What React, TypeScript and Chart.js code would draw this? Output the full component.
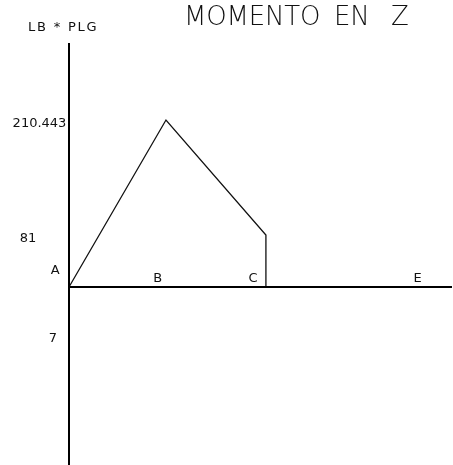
import React, { useEffect, useRef } from "react";
import { Chart, registerables } from "chart.js";

Chart.register(...registerables);

// ---- data ----
const titleWords = ["MOMENTO", "EN", "Z"];
const unitLabel = "LB * PLG";
const stationNames = ["A", "B", "C", "E"];
const stationLabelX = [-1.4, 9.0, 18.7, 35.4];
const diagramX = [0, 9.85, 20, 20];
const diagramY = [0, 210.443, 65.5, 0];
const tickValues = [210.443, 65.5, -60];
const tickLabels = ["210.443", "81", "7"];
const xRange = [0, 38.9];
const yRange = [-224.3, 307.5];

// ---- layout (pixels) ----
const tickLabelCenterX = [39.5, 28, 53];
const titleWordX = [184, 334, 391];

export default function App() {
  const ref = useRef<HTMLCanvasElement | null>(null);

  useEffect(() => {
    const canvas = ref.current;
    if (!canvas) return;

    const labelsPlugin = {
      id: "cadLabels",
      afterDraw(chart: any) {
        const ctx = chart.ctx as CanvasRenderingContext2D;
        const xs = chart.scales.x;
        const ys = chart.scales.y;
        ctx.save();
        ctx.fillStyle = "#111";
        // title
        ctx.font = "200 26px 'DejaVu Sans'";
        ctx.textAlign = "left";
        ctx.textBaseline = "middle";
        (ctx as any).letterSpacing = "-0.2px";
        titleWords.forEach((w, i) => ctx.fillText(w, titleWordX[i], 18));
        // unit label
        ctx.font = "13px 'DejaVu Sans'";
        (ctx as any).letterSpacing = "1.8px";
        ctx.fillText(unitLabel, 28, 28);
        (ctx as any).letterSpacing = "0px";
        // y tick labels
        ctx.font = "13px 'DejaVu Sans'";
        ctx.textAlign = "center";
        tickValues.forEach((v, i) => {
          ctx.fillText(tickLabels[i], tickLabelCenterX[i], ys.getPixelForValue(v) + 4);
        });
        // station labels
        const y0 = ys.getPixelForValue(0);
        stationNames.forEach((s, i) => {
          const px = xs.getPixelForValue(stationLabelX[i]);
          const dy = i === 0 ? 16 : 8;
          ctx.fillText(s, px, y0 - dy);
        });
        ctx.restore();
      },
    };

    const chart = new Chart(canvas, {
      type: "scatter",
      data: {
        datasets: [
          {
            data: [
              { x: 0, y: yRange[0] },
              { x: 0, y: yRange[1] },
            ],
            showLine: true,
            borderColor: "#000",
            borderWidth: 2,
            pointRadius: 0,
            clip: false as any,
          },
          {
            data: [
              { x: 0, y: 0 },
              { x: xRange[1], y: 0 },
            ],
            showLine: true,
            borderColor: "#000",
            borderWidth: 2,
            pointRadius: 0,
            clip: false as any,
          },
          {
            data: diagramX.map((x, i) => ({ x, y: diagramY[i] })),
            showLine: true,
            borderColor: "#111",
            borderWidth: 1.3,
            pointRadius: 0,
            tension: 0,
            clip: false as any,
          },
        ],
      },
      options: {
        animation: false,
        responsive: false,
        layout: { padding: { left: 69, right: 1, top: 43, bottom: 0 } },
        plugins: { legend: { display: false }, tooltip: { enabled: false } },
        events: [],
        scales: {
          x: { type: "linear", display: false, min: xRange[0], max: xRange[1] },
          y: { type: "linear", display: false, min: yRange[0], max: yRange[1] },
        },
      },
      plugins: [labelsPlugin],
    });
    return () => chart.destroy();
  }, []);

  return (
    <div style={{ position: "fixed", left: 0, top: 0, width: 453, height: 465, background: "#fff" }}>
      <canvas ref={ref} width={453} height={465} style={{ display: "block" }} />
    </div>
  );
}
